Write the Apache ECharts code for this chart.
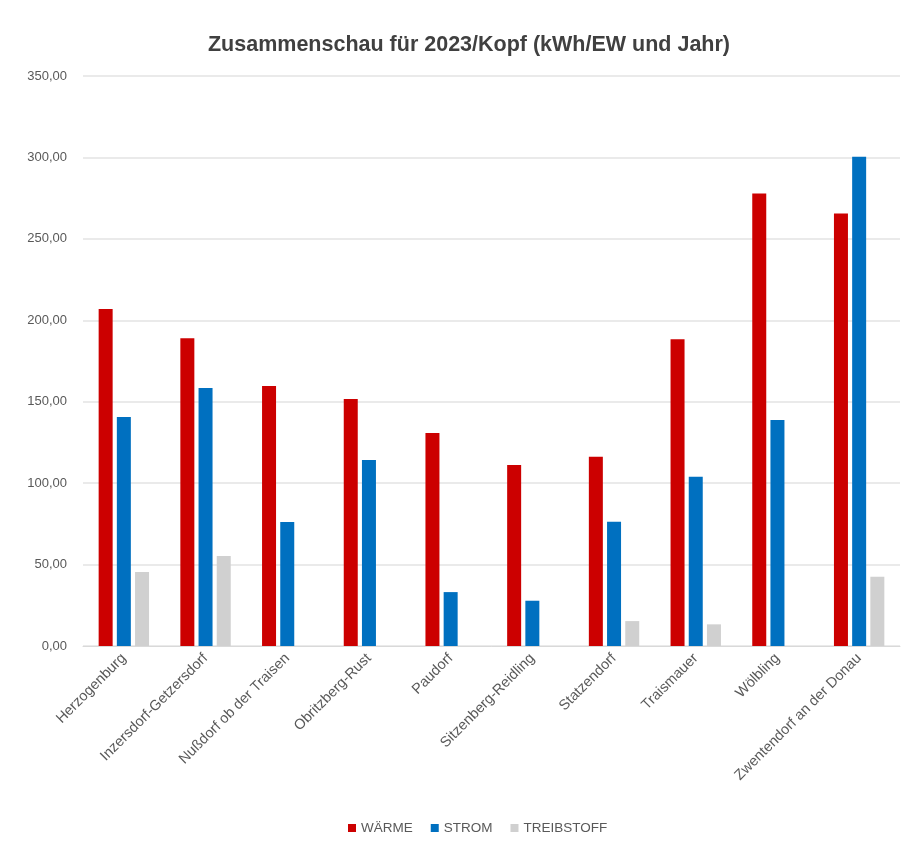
<!DOCTYPE html>
<html>
<head>
<meta charset="utf-8">
<script src="https://cdn.jsdelivr.net/npm/echarts@6/dist/echarts.min.js"></script>
<style>
html,body{margin:0;padding:0;background:#fff;}
#chart{width:902px;height:854px;}
</style>
</head>
<body>
<div id="chart"></div>
<script>
// Gemeinden
var orte = ['Herzogenburg', 'Inzersdorf-Getzersdorf', 'Nußdorf ob der Traisen', 'Obritzberg-Rust', 'Paudorf',
	'Sitzenberg-Reidling', 'Statzendorf', 'Traismauer', 'Wölbling', 'Zwentendorf an der Donau'];

// kWh/EW und Jahr
var waerme = [207, 189, 159.6, 151.6, 130.8, 111.1, 116.2, 188.3, 277.9, 265.6];
var strom = [140.6, 158.4, 76.1, 114.2, 33.1, 27.8, 76.3, 103.9, 138.7, 300.4];
var treibstoff = [45.4, 55.2, 0, 0, 0, 0, 15.3, 13.3, 0, 42.5];

var chart = echarts.init(document.getElementById('chart'));

function fmt(v){
	return v.toFixed(2).replace('.', ',');
}

var option = {
	backgroundColor: '#fff',
	textStyle: {fontFamily: 'Liberation Sans'},
	title: {
		text: 'Zusammenschau für 2023/Kopf (kWh/EW und Jahr)',
		left: 464,
		textAlign: 'center',
		top: 29,
		textStyle: {fontSize: 21.5, fontWeight: 'bold', color: '#404040'}
	},
	legend: {
		bottom: 14,
		left: 343,
		itemWidth: 8,
		itemHeight: 8,
		itemGap: 18,
		icon: 'rect',
		textStyle: {fontSize: 13.5, color: '#595959'},
		data: ['WÄRME', 'STROM', 'TREIBSTOFF']
	},
	grid: {left: 83, right: 2, top: 76, bottom: 208},
	xAxis: {
		type: 'category',
		data: orte,
		axisLine: {lineStyle: {color: '#d9d9d9'}},
		axisTick: {show: false},
		axisLabel: {rotate: 45, fontSize: 14.5, color: '#595959', margin: 10, interval: 0}
	},
	yAxis: {
		type: 'value',
		min: 0,
		max: 350,
		interval: 50,
		axisLine: {show: false},
		axisTick: {show: false},
		splitLine: {lineStyle: {color: '#e3e3e3', width: 1.5}},
		axisLabel: {fontSize: 13, color: '#595959', margin: 16, formatter: fmt}
	},
	series: [
		{
			name: 'WÄRME',
			type: 'bar',
			barWidth: 14,
			barGap: '30%',
			itemStyle: {color: '#cc0000'},
			data: waerme
		},
		{
			name: 'STROM',
			type: 'bar',
			barWidth: 14,
			barGap: '30%',
			itemStyle: {color: '#0070c0'},
			data: strom
		},
		{
			name: 'TREIBSTOFF',
			type: 'bar',
			barWidth: 14,
			barGap: '30%',
			itemStyle: {color: '#d0d0d0'},
			data: treibstoff
		}
	]
};

chart.setOption(option);
</script>
</body>
</html>
